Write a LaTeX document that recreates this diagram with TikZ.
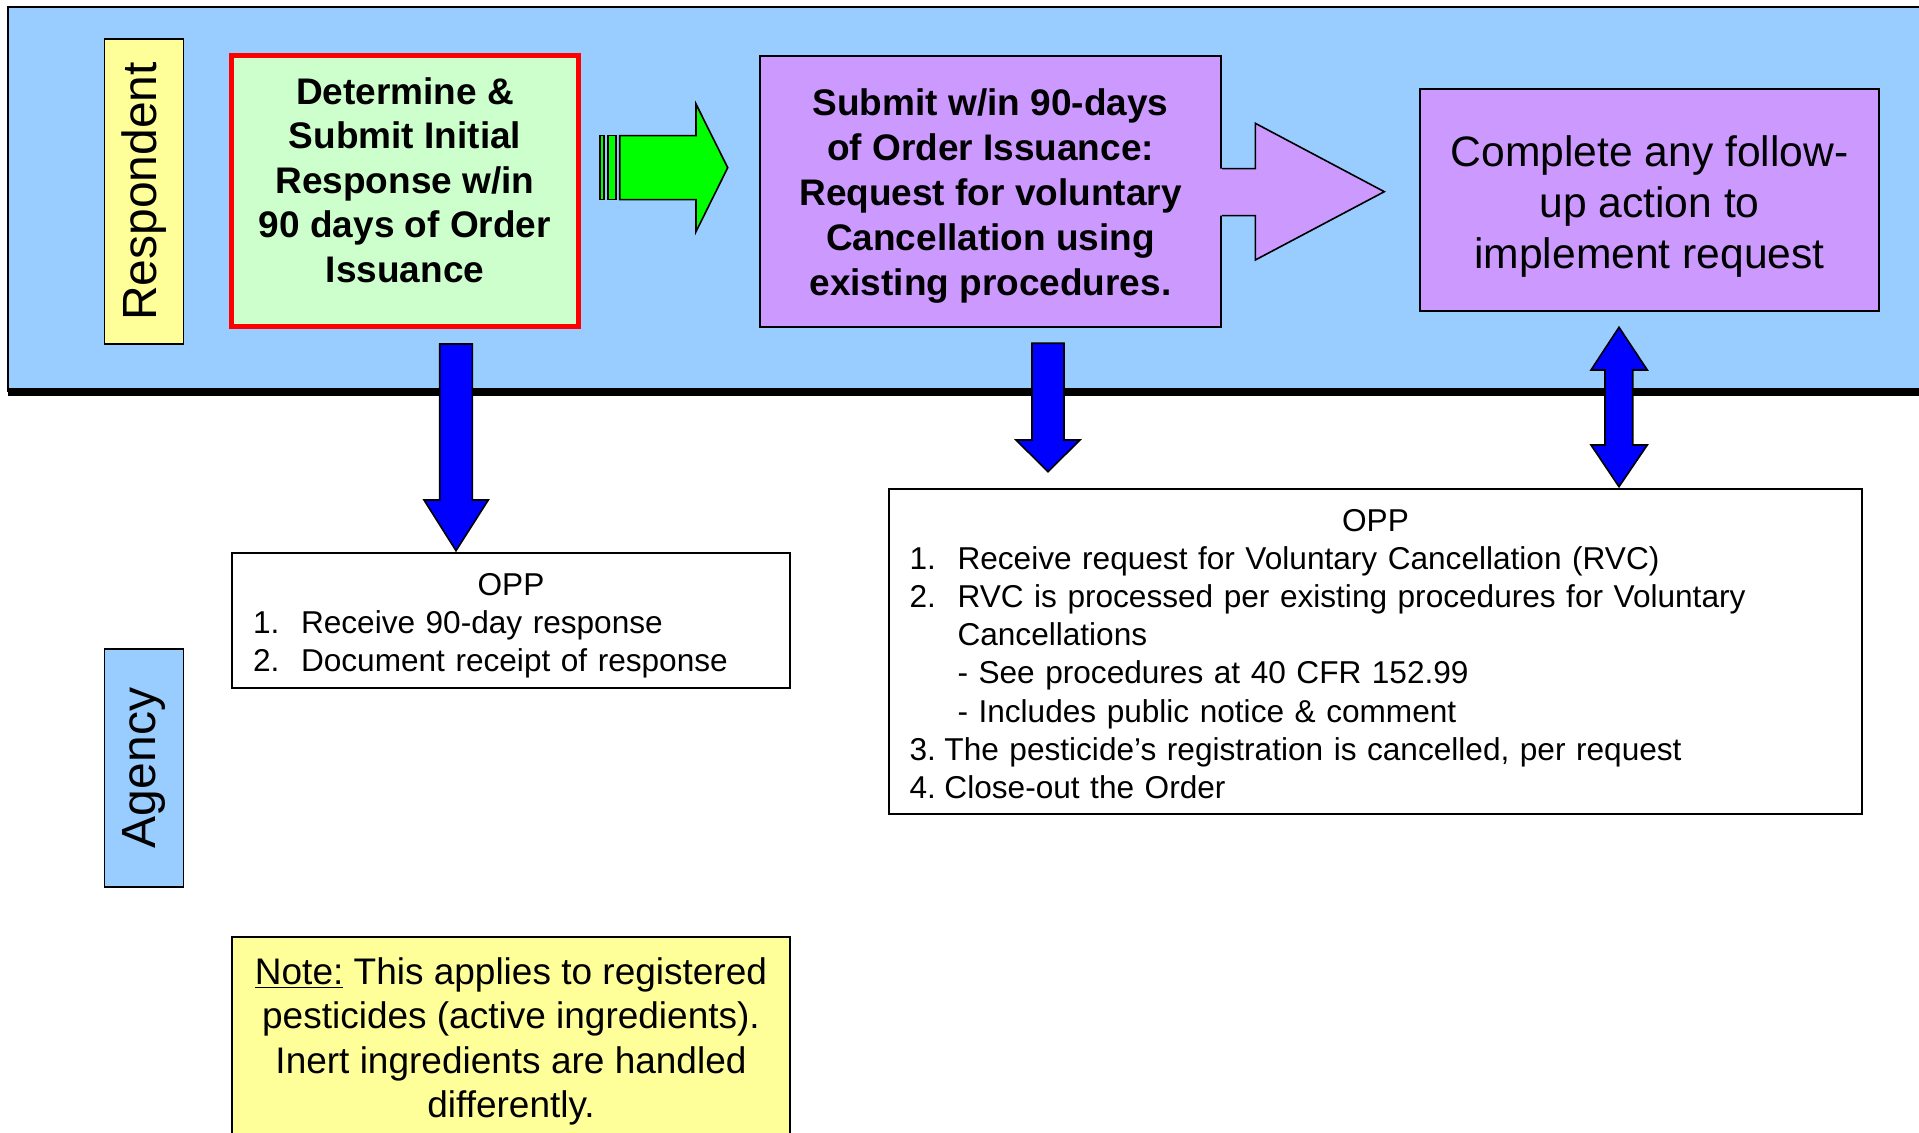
\documentclass[tikz,border=0pt]{standalone}
\usepackage{fontspec}
\setmainfont{Liberation Sans}
\definecolor{laneblue}{HTML}{99CCFF}
\definecolor{laneyellow}{HTML}{FFFF99}
\definecolor{palegreen}{HTML}{CCFFCC}
\definecolor{lilac}{HTML}{CC99FF}
\begin{document}
\begin{tikzpicture}
    [
        x=0.5pt, y=-0.5pt,
        lane/.style={rectangle, draw, line width=0.85pt, rotate=90, minimum width=152.5pt, minimum height=39.5pt, inner sep=0pt, font=\fontsize{24}{28}\selectfont},
        action/.style={rectangle, draw, line width=0.85pt, fill=lilac},
        oppbox/.style={rectangle, draw, line width=0.85pt},
        opptext/.style={inner sep=0pt, align=left, font=\fontsize{15.8}{19.1}\selectfont},
        blockarrow/.style={draw, line width=0.8pt, line join=miter},
    ]
    \useasboundingbox (0,0) rectangle (1919,1133);
    % respondent band
    \fill [laneblue] (8,7) rectangle (1930,392);
    \draw [line width=0.85pt] (1930,7) -- (8,7) -- (8,392);
    \draw [line width=3.8pt] (8,392) -- (1930,392);
    \node (resp) at (144,191.5) [lane, fill=laneyellow] {Respondent};
    \node (agency) at (144,768) [lane, fill=laneblue, minimum width=119pt] {Agency};
    % respondent steps
    \node (initial) at (405.2,191.3) [rectangle, draw=red, line width=2.5pt, fill=palegreen, minimum width=173.4pt, minimum height=135.5pt] {};
    \node (initialtext) at (405,180) [align=center, font=\bfseries\fontsize{18.5}{22.2}\selectfont] {Determine \&\\Submit Initial\\Response w/in\\90 days of Order\\Issuance};
    \node (cancel) at (990.5,191.5) [action, minimum width=230.5pt, minimum height=135.5pt] {};
    \node (canceltext) at (990.5,196.5) [align=center, font=\bfseries\fontsize{18.5}{22.5}\selectfont] {Submit w/in 90-days\\of Order Issuance:\\Request for voluntary\\Cancellation using\\existing procedures.};
    \node (followup) at (1649.5,200) [action, minimum width=229.6pt, minimum height=111.2pt] {};
    \node (followuptext) at (1649.5,206) [align=center, font=\fontsize{21.3}{25.5}\selectfont] {Complete any follow-\\up action to\\implement request};
    % agency steps
    \node (receipt) at (511,620.5) [oppbox, minimum width=279pt, minimum height=67.5pt] {};
    \node (receipttext) at (511,625.5) [opptext, text width=258pt]
        {{\centering OPP\par}
        \makebox[24pt][l]{1.}Receive 90-day response\par
        \makebox[24pt][l]{2.}Document receipt of response};
    \node (rvc) at (1375.5,651.5) [oppbox, minimum width=486.5pt, minimum height=162.5pt] {};
    \node (rvctext) at (1375.5,654) [opptext, text width=466pt]
        {{\centering OPP\par}
        \makebox[24pt][l]{1.}Receive request for Voluntary Cancellation (RVC)\par
        \makebox[24pt][l]{2.}RVC is processed per existing procedures for Voluntary\par
        \hspace*{24pt}Cancellations\par
        \hspace*{24pt}- See procedures at 40 CFR 152.99\par
        \hspace*{24pt}- Includes public notice \& comment\par
        \makebox[17.5pt][l]{3.}The pesticide’s registration is cancelled, per request\par
        \makebox[17.5pt][l]{4.}Close-out the Order};
    \node (note) at (511,1037.5) [rectangle, draw, line width=0.85pt, fill=laneyellow, minimum width=279pt, minimum height=100.5pt] {};
    \node (notetext) at (511,1041.5) [align=center, font=\fontsize{18.5}{22.2}\selectfont]
        {\underline{Note:} This applies to registered\\pesticides (active ingredients).\\Inert ingredients are handled\\differently.};
    % block arrows
    \filldraw [blockarrow, fill=green] (599.7,135.7) rectangle (604,199.7);
    \filldraw [blockarrow, fill=green] (607.7,135.7) rectangle (616,199.7);
    \filldraw [blockarrow, fill=green] (619.7,135.7) -- (696,135.7) -- (696,104) -- (727.7,167.7) -- (696,231.7) -- (696,199.7) -- (619.7,199.7) -- cycle;
    \fill [lilac] (1219,168.7) -- (1255.3,168.7) -- (1255.3,123.3) -- (1384.3,191.7) -- (1255.3,260) -- (1255.3,215.7) -- (1219,215.7) -- cycle;
    \draw [blockarrow] (1222,168.7) -- (1255.3,168.7) -- (1255.3,123.3) -- (1384.3,191.7) -- (1255.3,260) -- (1255.3,215.7) -- (1222,215.7);
    \filldraw [blockarrow, fill=blue] (439.7,344) -- (472.3,344) -- (472.3,500) -- (488.3,500) -- (456,550.7) -- (424,500) -- (439.7,500) -- cycle;
    \filldraw [blockarrow, fill=blue] (1032,343.3) -- (1064,343.3) -- (1064,440) -- (1080,440) -- (1048,471.7) -- (1016,440) -- (1032,440) -- cycle;
    \filldraw [blockarrow, fill=blue] (1619,327.3) -- (1647.3,370) -- (1632.7,370) -- (1632.7,445) -- (1647.3,445) -- (1619,486.7) -- (1591,445) -- (1605,445) -- (1605,370) -- (1591,370) -- cycle;
\end{tikzpicture}
\end{document}
